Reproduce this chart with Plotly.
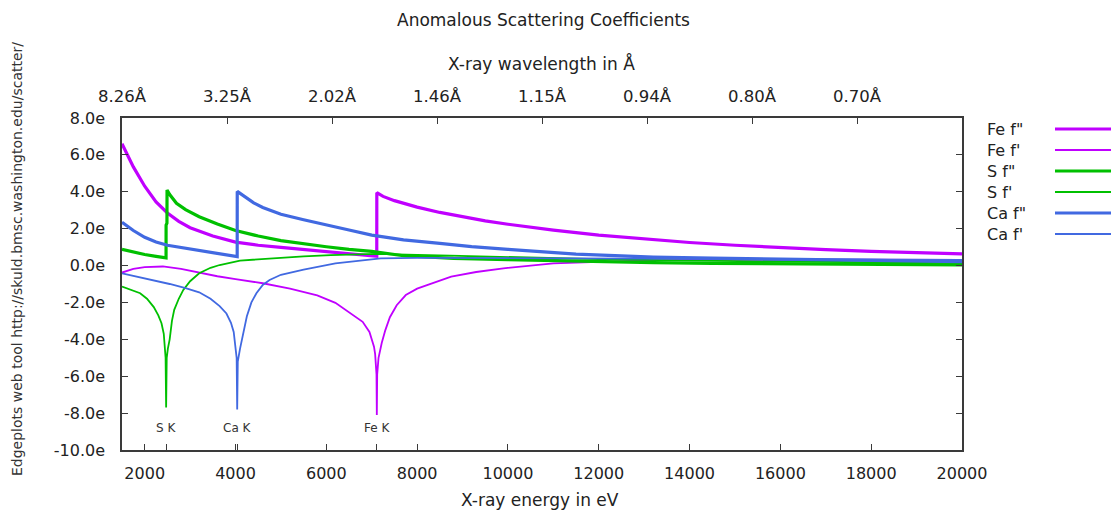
import numpy as np
import plotly.graph_objects as go

# ---------------- data ----------------
fe_fpp_e = [1500, 1750, 2000, 2250, 2500, 2750, 3000, 3500, 4000, 4500, 5000, 5500, 6000, 6500, 7000, 7111,
            7112, 7250, 7500, 7750, 8000, 8500, 9000, 9500, 10000, 11000, 12000, 13000, 14000, 15000, 16000,
            17000, 18000, 19000, 20000]
fe_fpp_v = [6.6, 5.35, 4.3, 3.45, 2.85, 2.4, 2.05, 1.6, 1.27, 1.1, 0.99, 0.88, 0.74, 0.64, 0.53, 0.5,
            3.95, 3.75, 3.52, 3.33, 3.17, 2.88, 2.63, 2.42, 2.24, 1.92, 1.65, 1.43, 1.25, 1.1, 0.96,
            0.86, 0.77, 0.70, 0.63]

fe_fp_e = [1500, 1750, 2000, 2400, 2800, 3200, 3600, 4000, 4600, 5200, 5800, 6200, 6600, 6800, 6950, 7050, 7075,
           7090, 7105, 7112, 7120, 7150, 7220, 7300, 7400, 7550, 7750, 8000, 8350, 8750, 9300, 9900, 11000,
           12000, 13000, 14000, 16000, 18000, 20000]
fe_fp_v = [-0.38, -0.18, -0.08, -0.05, -0.18, -0.40, -0.58, -0.74, -0.96, -1.25, -1.62, -2.02, -2.72, -3.05,
           -3.6, -4.4, -4.8, -5.3, -5.9, -8.1, -5.9, -5.0, -4.2, -3.5, -2.8, -2.15, -1.6, -1.25, -0.95, -0.6,
           -0.35, -0.15, 0.12, 0.22, 0.28, 0.31, 0.33, 0.32, 0.30]

s_fpp_e = [1500, 1750, 2000, 2250, 2470, 2471, 2490, 2492, 2550, 2700, 2900, 3200, 3600, 4000, 4500, 5000,
           5500, 6000, 6500, 7000, 7700, 8800, 10000, 11000, 12000, 13200, 14500, 16000, 18000, 20000]
s_fpp_v = [0.88, 0.72, 0.6, 0.5, 0.42, 2.2, 2.3, 4.1, 3.85, 3.38, 3.03, 2.65, 2.25, 1.9, 1.6, 1.35,
           1.17, 1.02, 0.88, 0.77, 0.53, 0.39, 0.32, 0.26, 0.21, 0.16, 0.12, 0.09, 0.06, 0.04]

s_fp_e = [1500, 1700, 1900, 2050, 2200, 2300, 2370, 2420, 2445, 2460, 2472, 2485, 2510, 2550, 2600, 2650,
          2750, 2850, 3000, 3200, 3450, 3650, 4100, 4750, 5500, 6100, 7100, 8000, 10000, 12000, 14000, 16000,
          18000, 20000]
s_fp_v = [-1.14, -1.3, -1.5, -1.8, -2.25, -2.7, -3.13, -3.7, -4.4, -5.0, -7.7, -5.0, -4.5, -4.0, -3.0, -2.4,
          -1.8, -1.32, -0.85, -0.42, -0.12, 0.03, 0.27, 0.39, 0.5, 0.57, 0.63, 0.58, 0.45, 0.35, 0.27, 0.21,
          0.16, 0.13]

ca_fpp_e = [1500, 1750, 2000, 2250, 2500, 3000, 3500, 4037, 4038, 4200, 4400, 4600, 5000, 5500, 6000, 6500,
            7000, 7700, 8500, 9200, 10000, 10600, 11500, 12500, 13200, 14500, 16000, 18000, 20000]
ca_fpp_v = [2.35, 1.9, 1.53, 1.28, 1.1, 0.9, 0.7, 0.48, 4.02, 3.72, 3.4, 3.15, 2.78, 2.48, 2.22, 1.93,
            1.65, 1.39, 1.2, 1.03, 0.88, 0.76, 0.62, 0.52, 0.46, 0.4, 0.34, 0.27, 0.21]

ca_fp_e = [1500, 1850, 2200, 2550, 2900, 3200, 3450, 3650, 3800, 3900, 3960, 4000, 4025, 4037, 4050, 4100,
           4140, 4200, 4250, 4350, 4460, 4600, 4750, 5000, 5500, 6200, 7200, 8000, 10000, 12000, 14000, 16000,
           18000, 20000]
ca_fp_v = [-0.42, -0.6, -0.78, -1.0, -1.22, -1.45, -1.8, -2.2, -2.6, -3.1, -3.6, -4.4, -5.0, -7.8, -5.2, -4.5,
           -4.0, -3.2, -2.75, -2.0, -1.5, -1.05, -0.78, -0.5, -0.22, 0.12, 0.39, 0.42, 0.40, 0.37, 0.35, 0.33,
           0.31, 0.30]

series_names = ['Fe f"', "Fe f'", 'S f"', "S f'", 'Ca f"', "Ca f'"]
series_x = [fe_fpp_e, fe_fp_e, s_fpp_e, s_fp_e, ca_fpp_e, ca_fp_e]
series_y = [fe_fpp_v, fe_fp_v, s_fpp_v, s_fp_v, ca_fpp_v, ca_fp_v]

edge_names = ["S K", "Ca K", "Fe K"]
edge_energies = [2472, 4038, 7112]

energy_ticks = [2000, 4000, 6000, 8000, 10000, 12000, 14000, 16000, 18000, 20000]
wavelength_labels = ["8.26Å", "3.25Å", "2.02Å", "1.46Å", "1.15Å", "0.94Å", "0.80Å", "0.70Å"]
y_ticks = [-10, -8, -6, -4, -2, 0, 2, 4, 6, 8]

# ---------------- styling ----------------
FE = "#c000ff"
S = "#00c000"
CA = "#4169e1"
colors = [FE, FE, S, S, CA, CA]
widths = [3.2, 1.8, 3.2, 1.8, 3.2, 1.8]
FONT = "DejaVu Sans"
TXT = "#222222"
AX = "#3a3a3a"

W, H = 1111, 510
L, R, T, B = 122, 962, 118, 450
pw, ph = R - L, B - T


def px(x):
    return (x - L) / pw


def py(y):
    return (B - y) / ph


fig = go.Figure()
for name, xs, ys, c, w in zip(series_names, series_x, series_y, colors, widths):
    fig.add_trace(go.Scatter(x=xs, y=ys, mode="lines", name=name,
                             line=dict(color=c, width=w), showlegend=False, hoverinfo="skip"))

x_min, x_max = 1500, 20000
wl_tick_pos = list(np.linspace(x_min, x_max, 9)[:-1])
# invisible trace to anchor the top (wavelength) axis
fig.add_trace(go.Scatter(x=[x_min, x_max], y=[0, 0], xaxis="x2", mode="lines",
                         line=dict(width=0), showlegend=False, hoverinfo="skip", opacity=0))

fig.update_layout(
    width=W, height=H,
    margin=dict(l=L, r=W - R, t=T, b=H - B),
    paper_bgcolor="white", plot_bgcolor="white",
    font=dict(family=FONT, size=16, color=TXT),
    hovermode=False,
    xaxis=dict(range=[x_min, x_max], tickvals=energy_ticks + edge_energies,
               ticktext=[str(v) for v in energy_ticks] + [""] * len(edge_energies),
               ticks="inside", ticklen=6, tickcolor=AX, tickwidth=1,
               showline=True, linecolor=AX, linewidth=1.5, mirror=True,
               showgrid=False, zeroline=False, ticklabelstandoff=8,
               tickfont=dict(family=FONT, size=16, color=TXT)),
    xaxis2=dict(range=[x_min, x_max], overlaying="x", side="top", tickvals=wl_tick_pos,
                ticktext=wavelength_labels, ticks="inside", ticklen=6, tickcolor=AX, tickwidth=1,
                showline=True, linecolor=AX, linewidth=1.5, showgrid=False, zeroline=False,
                ticklabelstandoff=8, tickfont=dict(family=FONT, size=16.5, color=TXT)),
    yaxis=dict(range=[-10, 8], tickvals=y_ticks, ticktext=[f"{v:.1f}e" for v in y_ticks],
               ticks="inside", ticklen=6, tickcolor=AX, tickwidth=1,
               showline=True, linecolor=AX, linewidth=1.5, mirror="ticks",
               showgrid=False, zeroline=False, ticklabelstandoff=12,
               tickfont=dict(family=FONT, size=16, color=TXT)),
)

ann = []
ann.append(dict(text="Anomalous Scattering Coefficients", x=px(543), y=py(20), xref="paper", yref="paper",
                showarrow=False, font=dict(family=FONT, size=17, color=TXT), xanchor="center", yanchor="middle"))
ann.append(dict(text="X-ray wavelength in Å", x=px(541), y=py(64), xref="paper", yref="paper",
                showarrow=False, font=dict(family=FONT, size=17, color=TXT), xanchor="center", yanchor="middle"))
ann.append(dict(text="X-ray energy in eV", x=px(540), y=py(500), xref="paper", yref="paper",
                showarrow=False, font=dict(family=FONT, size=17, color=TXT), xanchor="center", yanchor="middle"))
ann.append(dict(text="Edgeplots web tool http://skuld.bmsc.washington.edu/scatter/", x=px(17), y=py(259),
                xref="paper", yref="paper", textangle=-90, showarrow=False,
                font=dict(family=FONT, size=14, color="#333333"), xanchor="center", yanchor="middle"))
for nm, e in zip(edge_names, edge_energies):
    ann.append(dict(text=nm, x=e, y=-8.8, xref="x", yref="y", showarrow=False,
                    font=dict(family=FONT, size=12, color="#333333"), xanchor="center", yanchor="middle"))

shapes = []
leg_y = [129, 150, 171, 192, 213, 234]
for name, c, w, yy in zip(series_names, colors, widths, leg_y):
    ann.append(dict(text=name, x=px(985), y=py(yy), xref="paper", yref="paper", showarrow=False,
                    font=dict(family=FONT, size=16, color=TXT), xanchor="left", yanchor="middle"))
    shapes.append(dict(type="line", xref="paper", yref="paper", x0=px(1055), x1=px(1111),
                       y0=py(yy), y1=py(yy), line=dict(color=c, width=w)))

fig.update_layout(annotations=ann, shapes=shapes)
fig.write_html("out.html")
